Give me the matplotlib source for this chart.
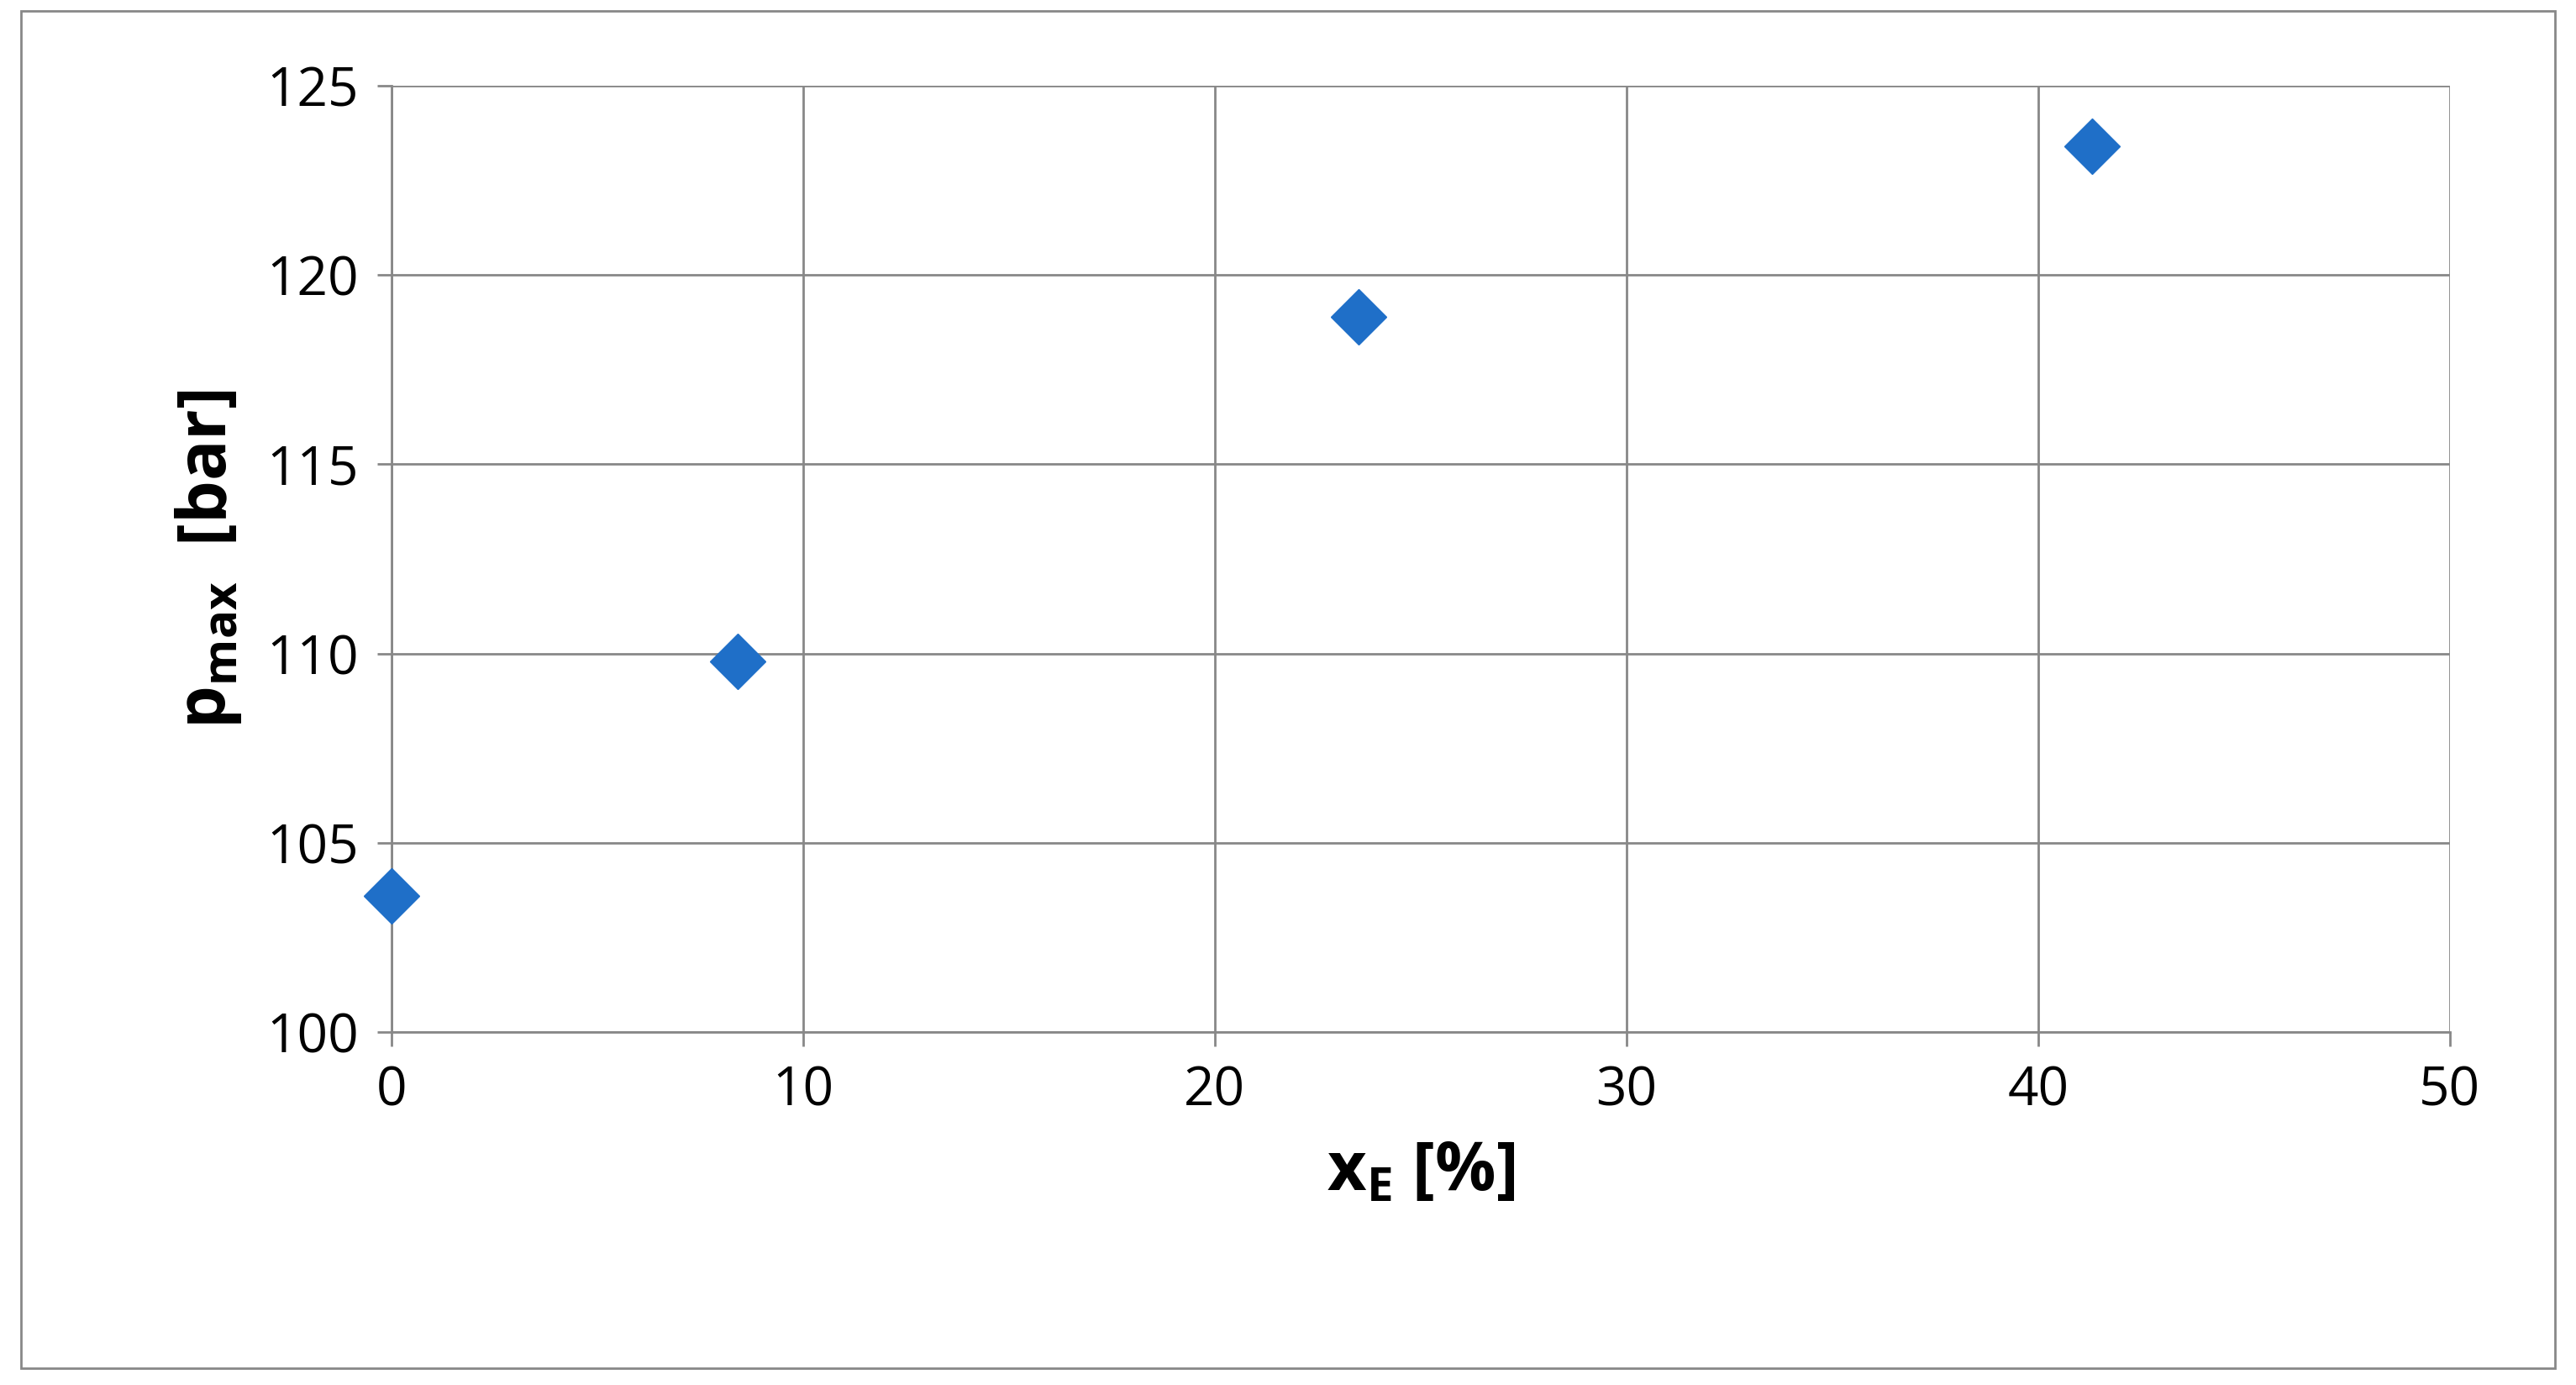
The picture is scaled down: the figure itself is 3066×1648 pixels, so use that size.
import matplotlib
matplotlib.use("Agg")
import matplotlib.pyplot as plt
from matplotlib.patches import Rectangle

x_values = [0, 8.4, 23.5, 41.3]
p_values = [103.6, 109.8, 118.9, 123.4]
x_ticks = [0, 10, 20, 30, 40, 50]
y_ticks = [100, 105, 110, 115, 120, 125]

plt.rcParams['font.family'] = ['Open Sans', 'DejaVu Sans']
fig = plt.figure(figsize=(30.66, 16.48), dpi=100)
ax = fig.add_axes([0.152, 0.255, 0.799, 0.683])
ax.plot(x_values, p_values, linestyle='none', marker='D', markersize=34,
        color='#1F6FC8', markeredgecolor='#1F6FC8', zorder=3, clip_on=False)
ax.set_xlim(0, 50)
ax.set_ylim(100, 125)
ax.set_xticks(x_ticks)
ax.set_yticks(y_ticks)
ax.grid(True, color='#888888', linewidth=2)
for s in ['top', 'right']:
    ax.spines[s].set_visible(False)
for s in ['left', 'bottom']:
    ax.spines[s].set_color('#888888')
    ax.spines[s].set_linewidth(2)
ax.tick_params(labelsize=46, length=12, width=2, color='#888888', pad=16)
ax.set_xlabel(r'x$_\mathregular{E}$ [%]', fontsize=58, fontweight='bold', labelpad=18)
ax.set_ylabel(r'p$_\mathregular{max}$  [bar]', fontsize=58, fontweight='bold', labelpad=20)
fig.patches.append(Rectangle((0.008, 0.012), 0.984, 0.98, transform=fig.transFigure,
                             fill=False, edgecolor='#888888', linewidth=2))
fig.savefig('out.png', dpi=100)
